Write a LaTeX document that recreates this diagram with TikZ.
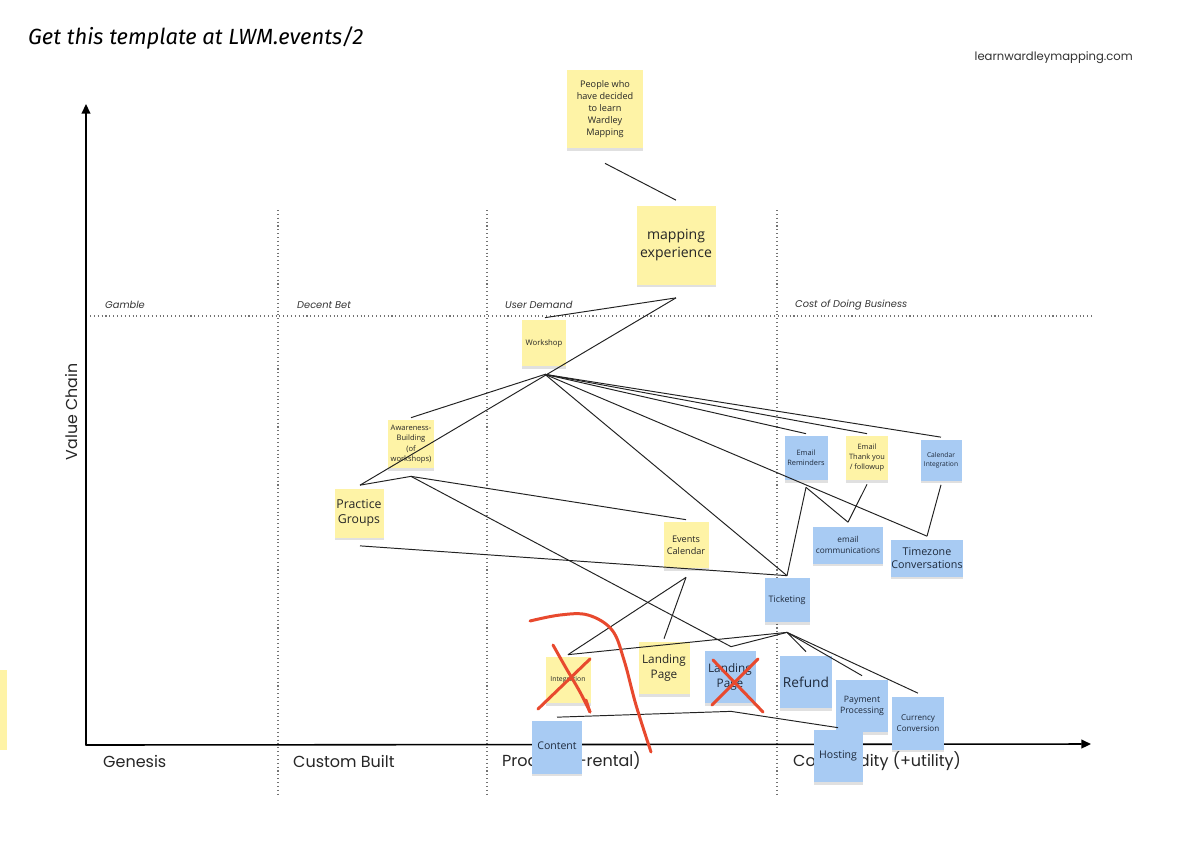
\documentclass[tikz,border=0pt]{standalone}
\usepackage{fontspec}
\setmainfont{Open Sans}
\newfontfamily\axfont{Poppins}
\newfontfamily\handfont{Fira Sans}
\usetikzlibrary{calc,arrows.meta,shadows}
\definecolor{ny}{HTML}{FEF3A6}
\definecolor{nb}{HTML}{A8CBF3}
\definecolor{rd}{HTML}{E8492E}
\definecolor{ln}{HTML}{222222}
\definecolor{bt}{HTML}{1E2A3C}
\begin{document}
\begin{tikzpicture}[x=0.02cm,y=-0.02cm,
  note/.style={inner sep=0pt, align=center, text=black!85,
    drop shadow={shadow xshift=0pt,shadow yshift=-0.05cm,opacity=0.12,fill=black}},
  yel/.style={note, fill=ny},
  blu/.style={note, fill=nb, text=bt},
  sz/.style 2 args={minimum width=#1*0.02cm, minimum height=#2*0.02cm},
  conn/.style={draw=ln, line width=0.55pt},
  grid/.style={draw=black!55, line width=0.7pt, dash pattern=on 0.6pt off 1.6pt},
  axis/.style={draw=black, line width=0.9pt, -{Triangle[length=5.5pt,width=5pt]}},
  axlab/.style={font=\axfont\fontsize{9.1}{11}\selectfont, anchor=west, text=black!85},
  reglab/.style={font=\axfont\itshape\fontsize{5.6}{7}\selectfont, anchor=west, text=black!80},
  red/.style={draw=rd, line width=1.7pt, line cap=round, line join=round}
]
\useasboundingbox (0,0) rectangle (1200,850);
\fill[white] (0,0) rectangle (1200,850);

% partial note at the left edge
\fill[ny] (0,670) rectangle (7,750);

% grid
\draw[grid] (278,210) -- (278,795);
\draw[grid] (487,210) -- (487,795);
\draw[grid] (777,210) -- (777,795);
\draw[grid] (90,316) -- (1093,316);

% axes
\coordinate (origin) at (86,745);
\coordinate (ytip) at (86,104);
\coordinate (xtip) at (1091,744);
\draw[axis] (origin) -- (ytip);
\draw[axis] ([xshift=-0.4pt]origin) -- (xtip);

% labels
\node[font=\handfont\itshape\fontsize{12.5}{14}\selectfont, anchor=west] (title) at (22,38) {Get this template at LWM.events/2};
\node[font=\axfont\fontsize{6.6}{8}\selectfont, anchor=east, text=black!80] (site) at (1139,58) {learnwardleymapping.com};
\node[font=\axfont\fontsize{9}{11}\selectfont, rotate=90, text=black!85] (vc) at (72,412) {Value Chain};
\node[reglab] (r1) at (99,305) {Gamble};
\node[reglab] (r2) at (291,305) {Decent Bet};
\node[reglab] (r3) at (499,305) {User Demand};
\node[reglab] (r4) at (789,305) {Cost of Doing Business};
\node[axlab] (a1) at (97,761) {Genesis};
\node[axlab] (a2) at (287,761) {Custom Built};
\node[axlab] (a3) at (496,761) {Product (+rental)};
\node[axlab] (a4) at (787,761) {Commodity (+utility)};

% notes
\node[yel, sz={76}{78}, font=\fontsize{5.2}{6.8}\selectfont] (people) at (605,109) {People who\\have decided\\to learn\\Wardley\\Mapping};
\node[yel, sz={79}{79}, font=\fontsize{8}{9.8}\selectfont] (map) at (676,245) {mapping\\experience};
\node[yel, sz={44}{46}, font=\fontsize{4.4}{5.5}\selectfont] (ws) at (544,343) {Workshop};
\node[yel, sz={46}{48}, font=\fontsize{4.3}{6}\selectfont] (aw) at (411,444) {Awareness-\\Building\\(of\\workshops)};
\node[yel, sz={49}{49}, font=\fontsize{7}{8.6}\selectfont] (pg) at (359,513) {Practice\\Groups};
\node[yel, sz={45}{46}, font=\fontsize{5.2}{6.8}\selectfont] (ev) at (686,545) {Events\\Calendar};
\node[blu, sz={43}{44}, font=\fontsize{4.2}{5.7}\selectfont] (er) at (806,458) {Email\\Reminders};
\node[yel, sz={42}{44}, font=\fontsize{4.2}{5.7}\selectfont] (et) at (867,458) {Email\\Thank you\\/ followup};
\node[blu, sz={41}{41}, font=\fontsize{3.8}{5.2}\selectfont] (ci) at (941,460) {Calendar\\Integration};
\node[blu, sz={70}{37}, font=\fontsize{4.7}{6.2}\selectfont] (ec) at (848,545) {email\\communications};
\node[blu, sz={70}{37}, font=\fontsize{6.1}{7.4}\selectfont] (tz) at (927,558) {Timezone\\Conversations};
\node[blu, sz={45}{44}, font=\fontsize{5.1}{6.5}\selectfont] (tk) at (787,600) {Ticketing};
\node[yel, sz={45}{46}, font=\fontsize{3.9}{5}\selectfont] (in) at (568,680) {Integration};
\node[yel, sz={51}{52}, font=\fontsize{6.7}{8.5}\selectfont] (ly) at (664,668) {Landing\\Page};
\node[blu, sz={51}{52}, font=\fontsize{6.7}{8.5}\selectfont] (lb) at (730,677) {Landing\\Page};
\node[blu, sz={52}{52}, font=\fontsize{7.8}{9}\selectfont] (rf) at (806,682) {Refund};
\node[blu, sz={52}{52}, font=\fontsize{5}{6.6}\selectfont] (pp) at (862,706) {Payment\\Processing};
\node[blu, sz={52}{53}, font=\fontsize{4.6}{6.2}\selectfont] (cc) at (918,723) {Currency\\Conversion};
\node[blu, sz={50}{53}, font=\fontsize{6}{7}\selectfont] (co) at (557,747) {\raisebox{2pt}{Content}};
\node[blu, sz={49}{52}, font=\fontsize{6}{7}\selectfont] (ho) at (838,756) {\raisebox{2pt}{Hosting}};

% connection points
\coordinate (peopleB) at ($(people.south)+(0,15)$);
\coordinate (mapT) at ($(map.north)+(0,-5)$);
\coordinate (mapB) at ($(map.south)+(0,13)$);
\coordinate (wsT) at ($(ws.north)+(1,-2)$);
\coordinate (wsB) at ($(ws.south)+(1,8)$);
\coordinate (awT) at ($(aw.north)+(0,-2)$);
\coordinate (awB) at ($(aw.south)+(0,8)$);
\coordinate (pgT) at ($(pg.north)+(1,-3)$);
\coordinate (pgB) at ($(pg.south)+(1,8)$);
\coordinate (evT) at ($(ev.north)+(0,-2)$);
\coordinate (evB) at ($(ev.south)+(0,9)$);
\coordinate (erT) at ($(er.north)+(0,-2)$);
\coordinate (erB) at ($(er.south)+(0,7)$);
\coordinate (etT) at ($(et.north)+(0,-2)$);
\coordinate (etB) at ($(et.south)+(0,4)$);
\coordinate (ciT) at ($(ci.north)+(0,-2)$);
\coordinate (ciB) at ($(ci.south)+(0,4)$);
\coordinate (ecT) at ($(ec.north)+(0,-4)$);
\coordinate (tzT) at ($(tz.north)+(0,-3)$);
\coordinate (tkT) at ($(tk.north)+(0,-2)$);
\coordinate (tkB) at ($(tk.south)+(0,10)$);
\coordinate (inT) at ($(in.north)+(0,-2)$);
\coordinate (lyT) at ($(ly.north)+(0,-3)$);
\coordinate (lbT) at ($(lb.north)+(1,-4)$);
\coordinate (lbB) at ($(lb.south)+(1,8)$);
\coordinate (rfT) at ($(rf.north)+(0,-4)$);
\coordinate (ppT) at ($(pp.north)+(0,-4)$);
\coordinate (ccT) at ($(cc.north)+(0,-3)$);
\coordinate (coT) at ($(co.north)+(0,-3)$);
\coordinate (hoT) at ($(ho.north)+(0,-2)$);

% connectors
\draw[conn] (peopleB) -- (mapT);
\draw[conn] (mapB) -- (wsT);
\draw[conn] (mapB) -- (pgT);
\draw[conn] (wsB) -- (awT);
\draw[conn] (wsB) -- (erT);
\draw[conn] (wsB) -- (etT);
\draw[conn] (wsB) -- (ciT);
\draw[conn] (wsB) -- (tzT);
\draw[conn] (wsB) -- (tkT);
\draw[conn] (tkT) -- (erB);
\draw[conn] (erB) -- (ecT);
\draw[conn] (etB) -- (ecT);
\draw[conn] (ciB) -- (tzT);
\draw[conn] (pgB) -- (tkT);
\draw[conn] (awB) -- (pgT);
\draw[conn] (awB) -- (evT);
\draw[conn] (awB) -- (lbT);
\draw[conn] (evB) -- (inT);
\draw[conn] (evB) -- (lyT);
\draw[conn] (inT) -- (tkB);
\draw[conn] (lbT) -- (tkB);
\draw[conn] (tkB) -- (rfT);
\draw[conn] (tkB) -- (ppT);
\draw[conn] (tkB) -- (ccT);
\draw[conn] (coT) -- (lbB);
\draw[conn] (lbB) -- (hoT);

% red hand-drawn marks
\draw[red] plot[smooth, tension=0.6] coordinates {(530,621) (560,615) (588,615) (612,630) (624,660) (636,705) (651,752)};
\draw[red] plot[smooth, tension=0.5] coordinates {(553,645) (566,668) (580,692) (590,712)};
\draw[red] (590,712) -- (586,700);
\draw[red] (590,659) -- (538,709);
\draw[red] (713,660) -- (763,712);
\draw[red] (758,659) -- (712,705);
\end{tikzpicture}
\end{document}
